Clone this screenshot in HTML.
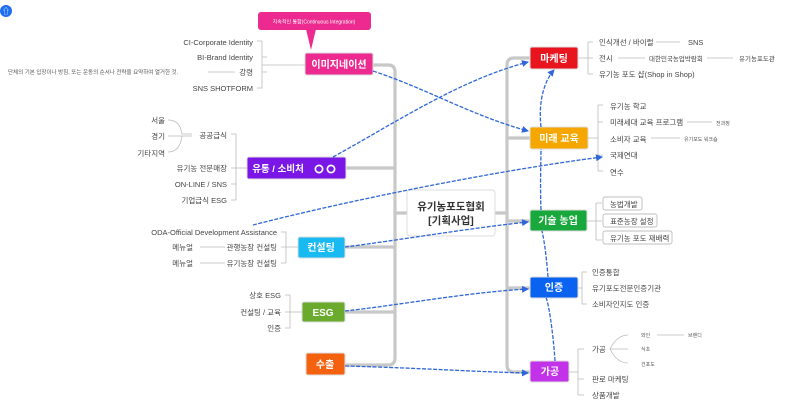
<!DOCTYPE html>
<html><head><meta charset="utf-8"><style>
html,body{margin:0;padding:0;background:#fff;width:800px;height:416px;overflow:hidden}
svg{display:block;font-family:"Liberation Sans","Noto Sans CJK KR",sans-serif}
.t{font-size:7.5px;fill:#444}
.s{font-size:5px;fill:#555}
.n{font-size:10px;font-weight:bold;fill:#fff;text-anchor:middle}
.g{stroke:#c8c8c8;stroke-width:3.2;fill:none}
.l{stroke:#bbb;stroke-width:0.8;fill:none}
.b{stroke:#2f66d8;stroke-width:1.3;fill:none;stroke-dasharray:4 1.5}
</style></head><body>
<svg width="800" height="416" viewBox="0 0 800 416">
<defs><marker id="a" markerWidth="8" markerHeight="8" refX="6" refY="4" orient="auto" markerUnits="userSpaceOnUse"><path d="M0,0.5 L7,4 L0,7.5 z" fill="#2f66d8"/></marker></defs>
<circle cx="6" cy="11" r="6" fill="#1e6ef0"/><text x="6" y="14" font-size="8" fill="#fff" text-anchor="middle">⇧</text>
<path class="g" d="M373,65 H388 Q395,65 395,72 V358 Q395,365 388,365 H345"/>
<path class="g" d="M346,168 H395 M345,247 H395 M345,312 H395 M395,213 H407"/>
<path class="g" d="M530,58 H514 Q507,58 507,65 V365 Q507,372 514,372 H530"/>
<path class="g" d="M495,213 H507 M530,138 H507 M530,221 H507 M530,288 H507"/>
<rect x="258" y="12" width="113" height="18" rx="3" fill="#ec2a8f"/>
<path d="M306,29 L316,29 L311,50 z" fill="#ec2a8f"/>
<text x="314" y="23.5" font-size="5" fill="#fff" text-anchor="middle">지속적인 통합(Continuous Integration)</text>
<rect x="305" y="53" width="68" height="22" rx="2" fill="#ec2a8f" stroke="#ddd"/><text class="n" x="339" y="68">이미지네이션</text>
<rect x="247" y="157" width="99" height="22" rx="2" fill="#7a17e6" stroke="#ddd"/><text class="n" x="278" y="172" style="font-size:9.5px">유통 / 소비처</text>
<circle cx="319" cy="169" r="4.5" fill="#fff"/><circle cx="319" cy="169" r="2.8" fill="#7a17e6"/>
<circle cx="331" cy="169" r="4.5" fill="#fff"/><circle cx="331" cy="169" r="2.8" fill="#7a17e6"/>
<rect x="298" y="237" width="47" height="21" rx="2" fill="#19b9f2" stroke="#ddd"/><text class="n" x="321" y="251">컨설팅</text>
<rect x="302" y="302" width="43" height="20" rx="2" fill="#6aab2e" stroke="#ddd"/><text class="n" x="323" y="316">ESG</text>
<rect x="306" y="353" width="39" height="22" rx="2" fill="#f5620f" stroke="#ddd"/><text class="n" x="325" y="368">수출</text>
<rect x="407" y="190" width="88" height="46" rx="3" fill="#fff" stroke="#ddd"/>
<text x="451" y="210" font-size="10.5" fill="#333" text-anchor="middle" font-weight="bold">유기농포도협회</text>
<text x="451" y="224" font-size="10.5" fill="#333" text-anchor="middle" font-weight="bold">[기획사업]</text>
<rect x="530" y="47" width="48" height="22" rx="2" fill="#e8141e" stroke="#ddd"/><text class="n" x="554" y="62">마케팅</text>
<rect x="530" y="127" width="58" height="22" rx="2" fill="#f5a700" stroke="#ddd"/><text class="n" x="559" y="142">미래 교육</text>
<rect x="530" y="210" width="57" height="21" rx="2" fill="#18a83c" stroke="#ddd"/><text class="n" x="558" y="224">기술 농업</text>
<rect x="530" y="277" width="48" height="21" rx="2" fill="#0a63f0" stroke="#ddd"/><text class="n" x="554" y="291">인증</text>
<rect x="530" y="361" width="39" height="21" rx="2" fill="#c232e8" stroke="#ddd"/><text class="n" x="550" y="375">가공</text>
<g class="t" text-anchor="end">
<text x="253" y="45">CI-Corporate Identity</text>
<text x="253" y="60">BI-Brand Identity</text>
<text x="253" y="75">강령</text>
<text x="253" y="91">SNS SHOTFORM</text>
<text x="227" y="138">공공급식</text>
<text x="227" y="171">유기농 전문매장</text>
<text x="227" y="187">ON-LINE / SNS</text>
<text x="227" y="203">기업급식 ESG</text>
<text x="277" y="235">ODA-Official Development Assistance</text>
<text x="277" y="250">관행농장 컨설팅</text>
<text x="277" y="266">유기농장 컨설팅</text>
<text x="193" y="250">메뉴얼</text>
<text x="193" y="266">메뉴얼</text>
<text x="281" y="298">상호 ESG</text>
<text x="281" y="315">컨설팅 / 교육</text>
<text x="281" y="331">인증</text>
<text x="165" y="123">서울</text>
<text x="165" y="139">경기</text>
<text x="165" y="156">기타지역</text>
</g>
<text x="8" y="74" class="s" style="font-size:5.5px">단체의 기본 입장이나 방침, 또는 운동의 순서나 전략을 요약하여 열거한 것.</text>
<g class="l">
<path d="M257,41 H262 V88 H257 M262,57 H267 M262,72 H267"/>
<path d="M262,65 H305"/>
<path d="M208,72 H235"/>
<path d="M231,134 H236 V200 H231 M231,168 H247 M231,184 H236"/>
<path d="M168,120 Q180,120 182,134 H192 M168,136 H192 M168,152 Q180,152 182,136"/>
<path d="M281,232 H286 V263 H281 M281,247 H298"/>
<path d="M200,247 H225 M200,263 H225"/>
<path d="M285,295 H290 V328 H285 M285,312 H302"/>
<path d="M578,58 H588 M588,42 V74 M588,42 H593 M588,58 H593 M588,74 H593"/>
<path d="M656,42 H680 M618,58 H645 M707,58 H733"/>
<path d="M588,138 H598 M598,105 V171 M598,105 H603 M598,122 H603 M598,155 H603 M598,171 H603"/>
<path d="M687,122 H712 M651,138 H680"/>
<path d="M587,221 H596 M596,203 V240 M596,203 H602 M596,221 H602 M596,240 H602"/>
<path d="M578,288 H582 M582,272 V304 M582,272 H587 M582,304 H587"/>
<path d="M569,372 H578 M578,349 V395 M578,349 H584 M578,379 H584 M578,395 H584"/>
<path d="M610,349 Q617,335 628,335 M610,349 H628 M610,349 Q617,363 628,363 M657,335 H684"/>
</g>
<g fill="#fff" stroke="#aaa" stroke-width="0.7">
<rect x="603" y="197" width="39" height="13" rx="2"/>
<rect x="603" y="214" width="54" height="13" rx="2"/>
<rect x="603" y="231" width="69" height="13" rx="2"/>
</g>
<g class="t">
<text x="599" y="45">인식개선 / 바이럴</text><text x="688" y="45">SNS</text>
<text x="599" y="61">전시</text><text x="649" y="61" style="font-size:6.5px">대한민국농업박람회</text><text x="739" y="61" style="font-size:6.5px">유기농포도관</text>
<text x="599" y="77">유기농 포도 샵(Shop in Shop)</text>
<text x="610" y="109">유기농 학교</text>
<text x="610" y="125">미래세대 교육 프로그램</text><text x="716" y="125" class="s">전과정</text>
<text x="610" y="142">소비자 교육</text><text x="684" y="141" class="s">유기포도 워크숍</text>
<text x="610" y="158">국제연대</text>
<text x="610" y="175">연수</text>
<text x="610" y="207">농법개발</text>
<text x="610" y="224">표준농장 설정</text>
<text x="610" y="241">유기농 포도 재배력</text>
<text x="592" y="275">인증통합</text>
<text x="592" y="291">유기포도전문인증기관</text>
<text x="592" y="307">소비자인지도 인증</text>
<text x="592" y="352">가공</text>
<text x="592" y="382">판로 마케팅</text>
<text x="592" y="398">상품개발</text>
</g>
<g class="s"><text x="641" y="337">와인</text><text x="688" y="337">브랜디</text><text x="641" y="351">식초</text><text x="641" y="366">건포도</text></g>
<g class="b">
<path d="M373,71 C430,90 470,115 528,131" marker-end="url(#a)"/>
<path d="M333,157 C400,120 460,80 528,62" marker-end="url(#a)"/>
<path d="M253,225 C350,200 500,170 602,157" marker-end="url(#a)"/>
<path d="M345,247 C400,240 470,228 528,222" marker-end="url(#a)"/>
<path d="M345,311 C400,305 470,292 528,289" marker-end="url(#a)"/>
<path d="M345,366 C420,368 480,372 528,373" marker-end="url(#a)"/>
<path d="M555,361 C553,330 548,300 546,298 M548,277 C546,250 543,235 542,231 M541,210 C540,185 541,160 541,149 M541,127 C538,100 545,80 554,70" marker-end="url(#a)"/>
</g>
</svg>
</body></html>
